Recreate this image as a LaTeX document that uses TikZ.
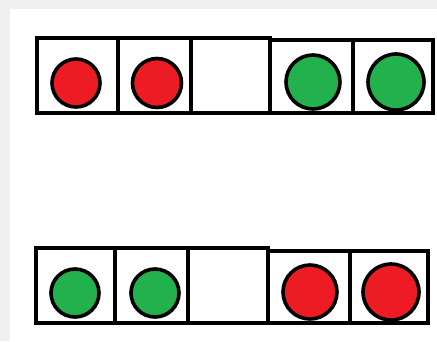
\documentclass[tikz,border=0pt]{standalone}
\usepackage{xcolor}
\usepackage{tikz}
\usetikzlibrary{positioning}
\definecolor{paintred}{RGB}{237,28,36}
\definecolor{paintgreen}{RGB}{34,177,76}
\definecolor{framegray}{RGB}{240,240,240}
\tikzset{
  cell/.style={draw=black, line width=3.5pt, line join=miter},
  redball/.style={circle, draw=black, fill=paintred,
    inner sep=0pt, line width=3.6pt},
  greenball/.style={circle, draw=black, fill=paintgreen,
    inner sep=0pt, line width=3.6pt}
}
\begin{document}
\begin{tikzpicture}[x=1pt, y=-1pt]
  \useasboundingbox (0,0) rectangle (437,341);
  % screenshot frame
  \fill[framegray] (0,0) rectangle (437,9);
  \fill[framegray] (0,0) rectangle (10,341);

  % Top row: two red, one gap, two green
  \draw[cell] (37,38) rectangle (118,113);
  \draw[cell] (118,38) rectangle (191,113);
  \draw[cell] (191,38) rectangle (270,113);
  \draw[cell] (270,40) rectangle (353,113);
  \draw[cell] (353,40) rectangle (433,113);
  \node[redball, minimum size=48pt] (topr1) at (76,83) {};
  \node[redball, minimum size=49pt] (topr2) at (157,83) {};
  \node[greenball, minimum size=54pt] (topg1) at (313,82) {};
  \node[greenball, minimum size=56pt] (topg2) at (396,82) {};

  % Bottom row: swapped
  \draw[cell] (36,248) rectangle (115,323);
  \draw[cell] (115,248) rectangle (188,323);
  \draw[cell] (188,248) rectangle (268,323);
  \draw[cell] (268,251) rectangle (350,323);
  \draw[cell] (350,251) rectangle (428,323);
  \node[greenball, minimum size=48pt] (botg1) at (75,293) {};
  \node[greenball, minimum size=48pt] (botg2) at (155,293) {};
  \node[redball, minimum size=54pt] (botr1) at (310,292) {};
  \node[redball, minimum size=56pt] (botr2) at (391,292) {};
\end{tikzpicture}
\end{document}
